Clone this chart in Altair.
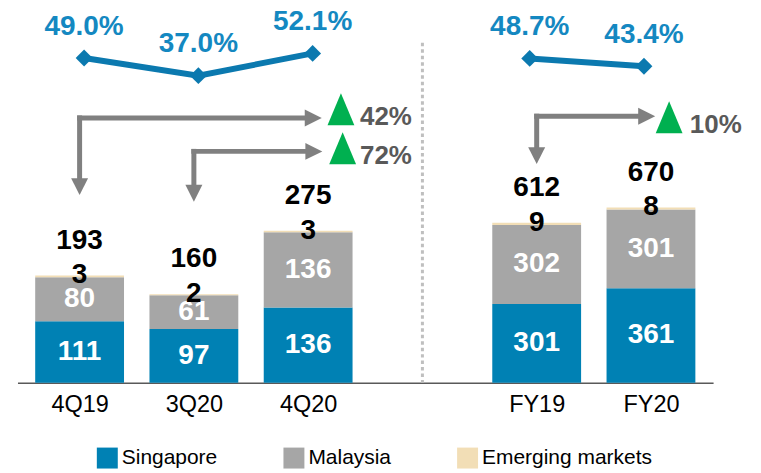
import json
import altair as alt
import pandas as pd

# ---------------- data ----------------
slots = ["4Q19", "3Q20", "4Q20", "", "FY19", "FY20"]
quarters = ["4Q19", "3Q20", "4Q20"]
years = ["FY19", "FY20"]
regions = ["Singapore", "Malaysia", "Emerging markets"]

singapore_q = [111, 97, 136]
malaysia_q = [80, 61, 136]
emerging_q = [3, 2, 3]
total_q = [193, 160, 275]

singapore_fy = [301, 361]
malaysia_fy = [302, 301]
emerging_fy = [9, 8]
total_fy = [612, 670]

margin_q = [49.0, 37.0, 52.1]
margin_fy = [48.7, 43.4]

growth_from = ["4Q19", "3Q20", "FY19"]
growth_to = ["4Q20", "4Q20", "FY20"]
growth_text = ["42%", "72%", "10%"]

# ---------------- style / layout ----------------
FONT = "Liberation Sans"
C_SG = "#0081B4"
C_MY = "#A6A6A6"
C_EM = "#F2DEB6"
C_LINE = "#0B79AF"
C_LINE_LBL = "#1488C1"
C_ARROW = "#808080"
C_GREEN = "#00B050"
C_GROWTH = "#595959"

W, H = 697, 370
XS = alt.Scale(domain=[-0.5, 5.5], nice=False, zero=False)
QS = alt.Scale(domain=[0, 668], nice=False, zero=False)
FS = alt.Scale(domain=[0, 1412], nice=False, zero=False)
PS = alt.Scale(domain=[-171.6, 79.24], nice=False, zero=False)

XAXIS = alt.Axis(
    values=[0, 1, 2, 4, 5],
    labelExpr=f"{json.dumps(slots)}[datum.value]",
    title=None, grid=False, ticks=False, tickSize=0,
    domainColor="#595959", domainWidth=1.5,
    labelFont=FONT, labelFontSize=23.5, labelColor="black",
    labelPadding=10, labelFlush=False, labelOverlap=False,
)

LEGEND = alt.Legend(
    orient="none", legendX=79.5, legendY=435, direction="horizontal",
    title=None, symbolType="square", symbolSize=441, symbolStrokeWidth=0,
    symbolOpacity=1, labelFont=FONT, labelFontSize=21, labelColor="black",
    labelOffset=4, columnPadding=66, padding=0, labelLimit=400,
)
COLOR = alt.Color("region:N", scale=alt.Scale(domain=regions, range=[C_SG, C_MY, C_EM]),
                  legend=LEGEND)

# annotation layout: levels / tips / badge in panel units, x deltas in slot units
ANNOT = [
    dict(level=479, tip=339.4, tip_dx=0.119, badge_dx=0.287, text_y=465.8, text_dx=0.454),
    dict(level=418.5, tip=327.3, tip_dx=0.124, badge_dx=0.302, text_y=395.4, text_dx=0.454),
    dict(level=1019, tip=835.9, tip_dx=0.037, badge_dx=0.159, text_y=954.2, text_dx=0.340),
]
SEPARATOR_TOP = 615


def xe(field):
    return alt.X(f"{field}:Q", scale=XS, axis=XAXIS)


def ye(field, scale):
    return alt.Y(f"{field}:Q", scale=scale, axis=None)


def bar_table(cats, sg, my, em):
    rows = []
    for i, c in enumerate(cats):
        start = 0
        for r, v in zip(regions, [sg[i], my[i], em[i]]):
            rows.append(dict(cat=c, pos=slots.index(c), region=r, value=v,
                             start=start, end=start + v, mid=start + v / 2))
            start += v
    return pd.DataFrame(rows)


def bar_group(cats, sg, my, em, totals, scale, annots, extra=None):
    df = bar_table(cats, sg, my, em)
    tot = pd.DataFrame(dict(pos=[slots.index(c) for c in cats], total=totals))
    bars = alt.Chart(df).mark_bar(size=89).encode(
        x=xe("pos"), y=ye("start", scale), y2="end:Q", color=COLOR)
    inner = alt.Chart(df[df.region != "Emerging markets"]).mark_text(
        font=FONT, fontSize=28, fontWeight="bold", color="white", baseline="middle"
    ).encode(x=xe("pos"), y=ye("mid", scale), text="value:Q")
    em_lbl = alt.Chart(df[df.region == "Emerging markets"]).mark_text(
        font=FONT, fontSize=28, fontWeight="bold", color="black", baseline="middle"
    ).encode(x=xe("pos"), y=ye("end", scale), text="value:Q")
    tot_lbl = alt.Chart(tot).mark_text(
        font=FONT, fontSize=28, fontWeight="bold", color="black", baseline="middle", dy=-35
    ).encode(x=xe("pos"), y=ye("total", scale), text="total:Q")
    layers = [bars, inner, em_lbl, tot_lbl]
    if extra is not None:
        layers.append(extra)
    if len(annots):
        a = pd.DataFrame(annots)
        vshaft = alt.Chart(a).mark_rule(color=C_ARROW, strokeWidth=5, strokeCap="square",
                                        y2Offset=-14).encode(
            x=xe("x0"), y=ye("level", scale), y2="tip:Q")
        hshaft = alt.Chart(a).mark_rule(color=C_ARROW, strokeWidth=5, strokeCap="square",
                                        x2Offset=-14).encode(
            x=xe("x0"), x2="tip_x:Q", y=ye("level", scale))
        vhead = alt.Chart(a).mark_point(shape="M0,0L-1,-2L1,-2Z", size=289, filled=True,
                                        opacity=1, color=C_ARROW, strokeWidth=0).encode(
            x=xe("x0"), y=ye("tip", scale))
        hhead = alt.Chart(a).mark_point(shape="M0,0L-2,-1L-2,1Z", size=289, filled=True,
                                        opacity=1, color=C_ARROW, strokeWidth=0).encode(
            x=xe("tip_x"), y=ye("level", scale))
        badge = alt.Chart(a).mark_point(shape="M0,-2L0.84,0L-0.84,0Z", size=1024, filled=True,
                                        opacity=1, color=C_GREEN, strokeWidth=0).encode(
            x=xe("badge_x"), y=ye("text_y", scale))
        gtext = alt.Chart(a).mark_text(font=FONT, fontSize=26, fontWeight="bold",
                                       color=C_GROWTH, align="left", baseline="alphabetic").encode(
            x=xe("text_x"), y=ye("text_y", scale), text="text:N")
        layers += [vshaft, hshaft, vhead, hhead, badge, gtext]
    return alt.layer(*layers)


def annots_for(cats):
    out = []
    for i, (f, t, g) in enumerate(zip(growth_from, growth_to, growth_text)):
        if f in cats:
            L = ANNOT[i]
            x0, x1 = slots.index(f), slots.index(t)
            out.append(dict(x0=x0, level=L["level"], tip=L["tip"], tip_x=x1 + L["tip_dx"],
                            badge_x=x1 + L["badge_dx"], text_x=x1 + L["text_dx"],
                            text_y=L["text_y"], text=g))
    return out


sep_df = pd.DataFrame(dict(pos=[slots.index("")], top=[SEPARATOR_TOP], bottom=[0]))
separator = alt.Chart(sep_df).mark_rule(color="#BFBFBF", strokeWidth=3, strokeDash=[3.5, 3]).encode(
    x=xe("pos"), y=ye("top", QS), y2="bottom:Q")

q_group = bar_group(quarters, singapore_q, malaysia_q, emerging_q, total_q, QS,
                    annots_for(quarters), extra=separator)
fy_group = bar_group(years, singapore_fy, malaysia_fy, emerging_fy, total_fy, FS,
                     annots_for(years))


def margin_layers(cats, vals, xoff):
    df = pd.DataFrame(dict(pos=[slots.index(c) for c in cats], margin=vals,
                           label=[f"{v:.1f}%" for v in vals]))
    line = alt.Chart(df).mark_line(color=C_LINE, strokeWidth=6, xOffset=xoff).encode(
        x=xe("pos"), y=ye("margin", PS))
    pts = alt.Chart(df).mark_point(shape="diamond", size=285, filled=True, opacity=1,
                                   color=C_LINE, strokeWidth=0, xOffset=xoff).encode(
        x=xe("pos"), y=ye("margin", PS))
    lbl = alt.Chart(df).mark_text(font=FONT, fontSize=28, fontWeight="bold", color=C_LINE_LBL,
                                  baseline="middle", dy=-31.5, xOffset=xoff).encode(
        x=xe("pos"), y=ye("margin", PS), text="label:N")
    return [line, pts, lbl]


pct_group = alt.layer(*(margin_layers(quarters, margin_q, 4.5) + margin_layers(years, margin_fy, -7)))

chart = alt.layer(q_group, fy_group, pct_group).resolve_scale(y="independent").properties(
    width=W, height=H,
    autosize=alt.AutoSizeParams(type="none"),
    padding={"left": 9.5, "top": 5, "right": 40, "bottom": 90},
    background="white",
).configure_view(stroke=None)

chart.save("out.html", embed_options={"renderer": "svg", "actions": False})
